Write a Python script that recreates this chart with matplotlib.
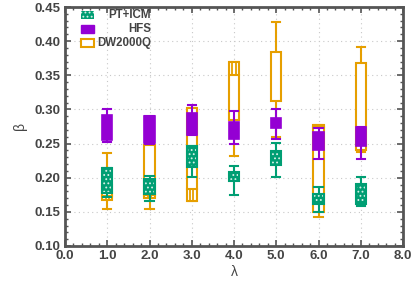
import numpy as np
import matplotlib
matplotlib.use("Agg")
import matplotlib.pyplot as plt
from matplotlib.patches import Rectangle
from matplotlib.ticker import MultipleLocator

lam = [1.0, 2.0, 3.0, 4.0, 5.0, 6.0, 7.0]

# PT+ICM: whisker low, box low, box high, whisker high
pt_lo  = [0.172, 0.166, 0.201, 0.175, 0.201, 0.150, 0.159]
pt_q1  = [0.178, 0.176, 0.215, 0.195, 0.219, 0.162, 0.162]
pt_q3  = [0.214, 0.198, 0.246, 0.209, 0.239, 0.176, 0.191]
pt_hi  = [0.214, 0.202, 0.246, 0.217, 0.251, 0.187, 0.2005]

# HFS
hfs_lo = [0.253, 0.2495, 0.263, 0.249, 0.256, 0.227, 0.227]
hfs_q1 = [0.255, 0.251, 0.263, 0.257, 0.273, 0.240, 0.246]
hfs_q3 = [0.292, 0.291, 0.295, 0.281, 0.287, 0.267, 0.275]
hfs_hi = [0.301, 0.291, 0.306, 0.298, 0.300, 0.273, 0.275]

# DW2000Q
dw_lo  = [0.154, 0.154, 0.166, 0.232, 0.260, 0.142, 0.238]
dw_q1  = [0.167, 0.171, 0.166, 0.285, 0.312, 0.150, 0.240]
dw_med = [0.173, 0.174, 0.184, 0.350, np.nan, 0.274, np.nan]
dw_q3  = [0.190, 0.248, 0.302, 0.370, 0.384, 0.277, 0.368]
dw_hi  = [0.236, 0.248, 0.302, 0.370, 0.4275, 0.277, 0.391]

C_PT = "#009e73"
C_HFS = "#9400d3"
C_DW = "#e69f00"
TXT = "#444444"

plt.rcParams['font.family'] = ['Liberation Sans', 'DejaVu Sans']
plt.rcParams['hatch.linewidth'] = 0.8

fig = plt.figure(figsize=(4.15, 2.89), dpi=100)
ax = fig.add_axes([65/415, 1-246/289, 338/415, 239/289])

W = 0.24
BW = 0.2
HATCH = '....'


def whiskers(ax, x, lo, q1, q3, hi, color, z):
    ax.plot([x, x], [lo, q1], color=color, lw=1.5, zorder=z, solid_capstyle='butt')
    ax.plot([x, x], [q3, hi], color=color, lw=1.5, zorder=z, solid_capstyle='butt')
    ax.plot([x - BW/2, x + BW/2], [lo, lo], color=color, lw=1.5, zorder=z)
    ax.plot([x - BW/2, x + BW/2], [hi, hi], color=color, lw=1.5, zorder=z)


# DW2000Q (drawn first)
for x, lo, q1, md, q3, hi in zip(lam, dw_lo, dw_q1, dw_med, dw_q3, dw_hi):
    whiskers(ax, x, lo, q1, q3, hi, C_DW, 3)
    ax.add_patch(Rectangle((x - W/2, q1), W, q3 - q1, facecolor='white',
                           edgecolor=C_DW, lw=1.5, zorder=3))
    if not np.isnan(md):
        ax.plot([x - W/2, x + W/2], [md, md], color=C_DW, lw=1.5, zorder=3)
        edge = q1 if abs(md - q1) < abs(q3 - md) else q3
        ax.add_patch(Rectangle((x - W/6, min(md, edge)), W/3, abs(md - edge),
                               facecolor='none', edgecolor=C_DW, lw=1.3, zorder=3))

# HFS
for x, lo, q1, q3, hi in zip(lam, hfs_lo, hfs_q1, hfs_q3, hfs_hi):
    whiskers(ax, x, lo, q1, q3, hi, C_HFS, 4)
    ax.add_patch(Rectangle((x - W/2, q1), W, q3 - q1, facecolor=C_HFS,
                           edgecolor=C_HFS, lw=1.2, zorder=4))

# PT+ICM
for x, lo, q1, q3, hi in zip(lam, pt_lo, pt_q1, pt_q3, pt_hi):
    whiskers(ax, x, lo, q1, q3, hi, C_PT, 5)
    ax.add_patch(Rectangle((x - W/2, q1), W, q3 - q1, facecolor=C_PT,
                           edgecolor='#d8f0e8', hatch=HATCH, lw=0, zorder=5))
    ax.add_patch(Rectangle((x - W/2, q1), W, q3 - q1, facecolor='none',
                           edgecolor=C_PT, lw=1.5, zorder=5))

ax.set_xlim(0, 8)
ax.set_ylim(0.10, 0.45)
ax.xaxis.set_major_locator(MultipleLocator(1.0))
ax.xaxis.set_minor_locator(MultipleLocator(0.2))
ax.yaxis.set_major_locator(MultipleLocator(0.05))
ax.yaxis.set_minor_locator(MultipleLocator(0.01))
ax.xaxis.set_major_formatter(matplotlib.ticker.FormatStrFormatter('%.1f'))
ax.yaxis.set_major_formatter(matplotlib.ticker.FormatStrFormatter('%.2f'))
ax.grid(True, which='major', color='#c8c8c8', linestyle=(0, (1, 3)), lw=0.8, zorder=0)
ax.tick_params(which='both', direction='in', top=True, right=True, color='#555555')
ax.tick_params(which='major', length=4, width=1.2, labelsize=9.5, labelcolor=TXT, pad=3)
ax.tick_params(which='minor', length=2, width=1.0)
for lab in ax.get_xticklabels() + ax.get_yticklabels():
    lab.set_fontweight('bold')
for s in ax.spines.values():
    s.set_color('#555555')
    s.set_linewidth(2)

ax.set_xlabel('λ', fontsize=10, color=TXT, labelpad=2)
ax.set_ylabel('β', fontsize=10, color=TXT, labelpad=6)

# legend (manual, gnuplot-style right-aligned labels)
labels = ['PT+ICM', 'HFS', 'DW2000Q']
rows_y = [15, 29, 43]
for i, (lab, yp) in enumerate(zip(labels, rows_y)):
    x0, x1 = 81/415, 94/415
    yy = 1 - yp/289
    h = 8/289
    if i == 0:
        fig.patches.append(Rectangle((x0, yy - h/2), x1 - x0, h, transform=fig.transFigure,
                                     facecolor=C_PT, edgecolor='#d8f0e8', hatch=HATCH, lw=0, zorder=10))
    elif i == 1:
        fig.patches.append(Rectangle((x0, yy - h/2), x1 - x0, h, transform=fig.transFigure,
                                     facecolor=C_HFS, edgecolor=C_HFS, lw=1, zorder=10))
    else:
        fig.patches.append(Rectangle((x0, yy - h/2), x1 - x0, h, transform=fig.transFigure,
                                     facecolor='white', edgecolor=C_DW, lw=1.5, zorder=10))
    fig.text(151/415, yy, lab, ha='right', va='center', fontsize=8.3, fontweight='bold',
             color=TXT)

fig.savefig('out.png', dpi=100)
